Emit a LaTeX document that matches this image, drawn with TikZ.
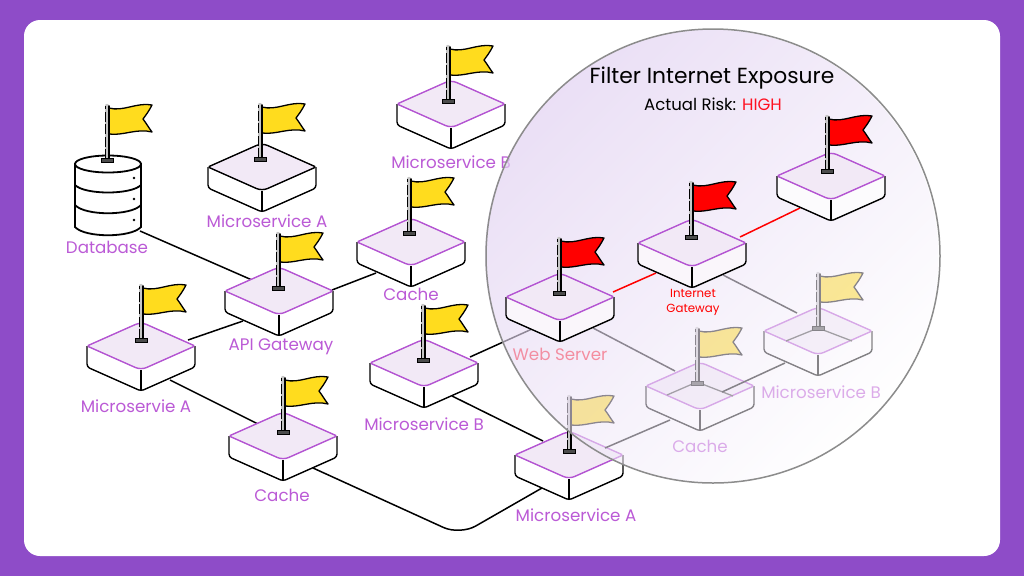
\documentclass[tikz,border=0pt]{standalone}
\usepackage{fontspec}
\setmainfont{Poppins}
\usetikzlibrary{fadings}

\definecolor{framepurple}{HTML}{8E4CC8}
\definecolor{labelpurple}{HTML}{BB5AD6}
\definecolor{edgepurple}{HTML}{B455D2}
\definecolor{facepurple}{HTML}{F2E9F6}
\definecolor{flagyellow}{HTML}{FFDC1E}
\definecolor{tintpurple}{HTML}{C7A8E6}
\definecolor{riskred}{HTML}{FF1020}

\tikzfading[name=riskfade,left color=transparent!64,right color=transparent!100]

\tikzset{
  wire/.style={black,line width=1.5pt},
  redwire/.style={red,line width=1.5pt},
  tag/.style={text=labelpurple,font=\fontsize{16.7}{19}\selectfont,inner sep=0pt},
}

% #1 centre, #2 top stroke, #3 side fill
\newcommand{\hostbox}[3]{%
  \begin{scope}[shift={(#1)}]
    \fill[#3] (-54,0) -- (-54,21) -- (0,45) -- (54,21) -- (54,0) -- (0,24) -- cycle;
    \draw[black,line width=1.4pt,rounded corners=3pt]
      (-54,0) -- (-54,21) -- (0,45) -- (54,21) -- (54,0);
    \draw[black,line width=1.4pt] (0,24) -- (0,45);
    \filldraw[fill=facepurple,draw=#2,line width=1.4pt]
      (-54,0) [rounded corners=6pt] -- (0,-24) [rounded corners=1.5pt] -- (54,0) [rounded corners=6pt] -- (0,24) [rounded corners=1.5pt] -- cycle;
  \end{scope}
}

% #1 foot of the pole x, #2 y, #3 colour
\newcommand{\riskflag}[3]{%
  \begin{scope}[shift={(#1,#2)}]
    \filldraw[fill=#3,draw=black,line width=1.3pt,line join=round]
      (2,-53) .. controls (16,-49) and (30,-59) .. (45,-56)
      .. controls (42,-50) and (39,-46) .. (36,-42)
      .. controls (39,-38) and (42,-33) .. (45,-29)
      .. controls (30,-33) and (16,-25) .. (2,-27) -- cycle;
    \draw[gray!45,line width=4.4pt,line cap=round] (0,-2) -- (0,-55);
    \draw[black,line width=1.8pt,line cap=round] (1.6,-2) -- (1.6,-55);
    \draw[black,line width=1.3pt,dash pattern=on 10pt off 2.5pt] (-1.8,-2) -- (-1.8,-55);
    \filldraw[fill=black!70,draw=black,line width=1pt] (-6,-3) rectangle (6,1);
  \end{scope}
}

\begin{document}
\begin{tikzpicture}[x=1pt,y=-1pt]
\useasboundingbox (0,0) rectangle (1024,576);

% frame and panel
\fill[framepurple] (0,0) rectangle (1024,576);
\fill[white,rounded corners=16pt] (24,20) rectangle (1000,556);

% top face centres
\coordinate (msaTop) at (262,167);
\coordinate (msbTop) at (451,104);
\coordinate (cacheTop) at (411,242);
\coordinate (api) at (279,291);
\coordinate (msaLeft) at (141,346);
\coordinate (msbMid) at (424,363);
\coordinate (cacheLow) at (283,436);
\coordinate (msaLow) at (569,455);
\coordinate (web) at (560,297);
\coordinate (gate) at (692,243);
\coordinate (exposed) at (831,176);
\coordinate (cacheDim) at (700,386);
\coordinate (msbDim) at (818,331);

% where the wires leave the boxes
\coordinate (dbOut) at (140,231);
\coordinate (apiIn) at (252,280);
\coordinate (msaLeftOut) at (188,340);
\coordinate (apiLow) at (243,321);
\coordinate (apiOut) at (332,290);
\coordinate (cacheTopIn) at (376,273);
\coordinate (msaLeftLow) at (170,380);
\coordinate (cacheLowIn) at (260,425);
\coordinate (cacheLowOut) at (313,468);
\coordinate (bendLow) at (460,535);
\coordinate (msaLowIn) at (542,488);
\coordinate (msbMidOut) at (470,357);
\coordinate (webIn) at (532,329);
\coordinate (msbMidLow) at (452,396);
\coordinate (msaLowTop) at (543,441);
\coordinate (webOut) at (593,328);
\coordinate (cacheDimIn) at (675,371);
\coordinate (gateOut) at (723,275);
\coordinate (msbDimIn) at (797,313);
\coordinate (msaStub) at (605,448);
\coordinate (cacheDimLow) at (670,420);
\coordinate (cacheStub) at (722,392);
\coordinate (msbDimLow) at (785,363);
\coordinate (webRed) at (613,292);
\coordinate (gateRedIn) at (656,273);
\coordinate (gateRedOut) at (740,237);
\coordinate (exposedIn) at (800,208);

% wires under the circle
\draw[wire] (dbOut) -- (apiIn);
\draw[wire] (msaLeftOut) -- (apiLow);
\draw[wire] (apiOut) -- (cacheTopIn);
\draw[wire] (msaLeftLow) -- (cacheLowIn);
\draw[wire,rounded corners=18pt] (cacheLowOut) -- (bendLow) -- (msaLowIn);
\draw[wire] (msbMidOut) -- (webIn);
\draw[wire] (msbMidLow) -- (msaLowTop);
\draw[wire] (webOut) -- (cacheDimIn);
\draw[wire] (gateOut) -- (msbDimIn);

% database
\filldraw[fill=white,draw=black,line width=1.8pt]
  (75,164) -- (75,227) .. controls (85,238) and (131,238) .. (141,227) -- (141,164) -- cycle;
\draw[black,line width=1.8pt] (75,185) .. controls (85,195) and (131,195) .. (141,185);
\draw[black,line width=1.8pt] (75,205) .. controls (85,216) and (131,216) .. (141,205);
\filldraw[fill=white,draw=black,line width=1.8pt] (108,164) ellipse [x radius=33,y radius=8.5];
\foreach \doty in {178,199,220}
  \fill[black] (134,\doty) circle (1.3);
\riskflag{107}{161}{flagyellow}

\hostbox{msaTop}{black}{white}
\hostbox{msbTop}{edgepurple}{white}
\hostbox{cacheTop}{edgepurple}{white}
\hostbox{api}{edgepurple}{white}
\hostbox{msaLeft}{edgepurple}{white}
\hostbox{msbMid}{edgepurple}{white}
\hostbox{cacheLow}{edgepurple}{white}
\hostbox{msaLow}{edgepurple}{white}

% dimmed part, stacked in this order
\draw[wire] (msaStub) -- (cacheDimLow);
\hostbox{cacheDim}{edgepurple}{white}
\draw[black!75,line width=1.3pt] (667,395) -- (697,382) -- (733,396);
\draw[wire] (cacheStub) -- (msbDimLow);
\hostbox{msbDim}{edgepurple}{white}
\draw[black!75,line width=1.3pt] (786,341) -- (818,328) -- (852,341);

\riskflag{260}{160}{flagyellow}
\riskflag{448}{102}{flagyellow}
\riskflag{409}{234}{flagyellow}
\riskflag{278}{289}{flagyellow}
\riskflag{141}{341}{flagyellow}
\riskflag{423}{361}{flagyellow}
\riskflag{283}{433}{flagyellow}
\riskflag{569}{452}{flagyellow}
\riskflag{697}{384}{flagyellow}
\riskflag{818}{329}{flagyellow}

\node[tag] (dbTag) at (107,247) {Database};
\node[tag] (msaTopTag) at (267,221) {Microservice A};
\node[tag] (msbTopTag) at (451,162) {Microservice B};
\node[tag] (cacheTopTag) at (411,294) {Cache};
\node[tag] (apiTag) at (281,347) {API Gateway};
\node[tag] (msaLeftTag) at (136,406) {Microservie A};
\node[tag] (msbMidTag) at (424,424) {Microservice B};
\node[tag] (cacheLowTag) at (282,495) {Cache};
\node[tag] (msaLowTag) at (576,515) {Microservice A};
\node[tag] (cacheDimTag) at (700,446) {Cache};
\node[tag] (msbDimTag) at (821,392) {Microservice B};
\node[tag,text=riskred] (webTag) at (560,354) {Web Server};

% the filter circle
\fill[white,fill opacity=0.5] (713,256) circle (227);
\fill[tintpurple,path fading=riskfade,fading angle=-45] (713,256) circle (227);
\draw[black!45,line width=1.5pt] (713,256) circle (227);

\draw[redwire] (webRed) -- (gateRedIn);
\draw[redwire] (gateRedOut) -- (exposedIn);
\hostbox{web}{edgepurple}{white!60!facepurple}
\hostbox{gate}{edgepurple}{white!60!facepurple}
\hostbox{exposed}{edgepurple}{white!80!facepurple}
\riskflag{559}{294}{red}
\riskflag{691}{238}{red}
\riskflag{827}{172}{red}

\node[tag,text=red,font=\fontsize{11.8}{15}\selectfont,align=center] (gateTag) at (693,302) {Internet\\Gateway};
\node[inner sep=0pt,font=\fontsize{21.8}{24}\selectfont] (titleTag) at (712,78) {Filter Internet Exposure};
\node[inner sep=0pt,font=\fontsize{16.5}{18}\selectfont] (riskTag) at (713,104) {Actual Risk: \textcolor{riskred}{HIGH}};

\end{tikzpicture}
\end{document}
